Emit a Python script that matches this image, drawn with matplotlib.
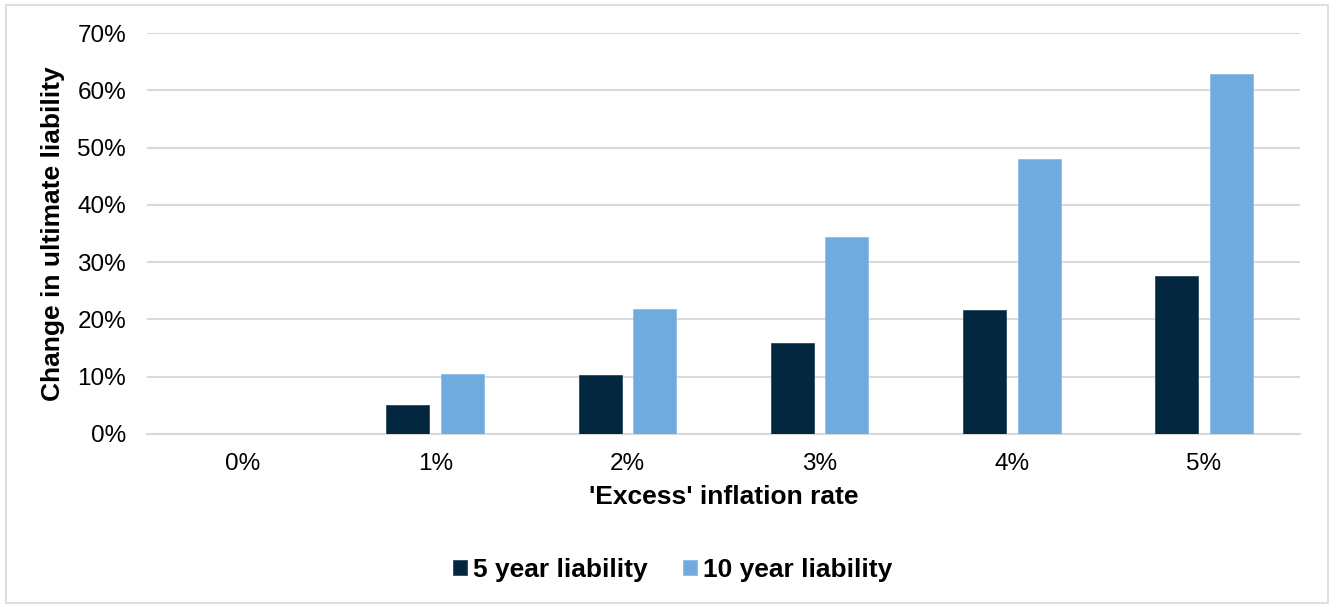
import numpy as np
import matplotlib
matplotlib.use("Agg")
import matplotlib.pyplot as plt
from matplotlib.patches import Rectangle
from matplotlib.ticker import FuncFormatter

plt.rcParams['font.family'] = ['Liberation Sans', 'DejaVu Sans']

# 数据
categories = ["0%", "1%", "2%", "3%", "4%", "5%"]
five_year = [0.0, 5.0, 10.3, 15.9, 21.6, 27.6]
ten_year = [0.0, 10.4, 21.8, 34.4, 48.0, 62.9]
series_names = ["5 year liability", "10 year liability"]

dark = "#02273F"
light = "#6FACDD"

fig = plt.figure(figsize=(13.3, 6.05), dpi=100)
ax = fig.add_axes([147 / 1330, 1 - 434 / 605, (1300 - 147) / 1330, (434 - 33) / 605])

x = np.arange(len(categories))
w = 0.224
off = 0.142
ax.bar(x - off, five_year, w, color=dark, edgecolor="#2b4a60", linewidth=0.6,
       label=series_names[0], zorder=3)
ax.bar(x + off, ten_year, w, color=light, edgecolor="#8cbde6", linewidth=0.6,
       label=series_names[1], zorder=3)

ax.set_xlim(-0.5, len(categories) - 0.5)
ax.set_ylim(0, 70)
ax.set_yticks(np.arange(0, 71, 10))
ax.yaxis.set_major_formatter(FuncFormatter(lambda v, p: "%d%%" % v))
ax.set_xticks(x)
ax.set_xticklabels(categories)
ax.grid(axis="y", color="#D9D9D9", linewidth=1.5, zorder=0)
ax.set_axisbelow(True)
for s in ["top", "right", "left"]:
    ax.spines[s].set_visible(False)
ax.spines["bottom"].set_color("#D9D9D9")
ax.spines["bottom"].set_linewidth(1.5)
ax.tick_params(axis="both", length=0, labelsize=17.5, colors="#000000")
ax.tick_params(axis="x", pad=14)
ax.tick_params(axis="y", pad=15)

ax.set_xlabel("'Excess' inflation rate", fontsize=19, fontweight="bold", labelpad=7)
ax.set_ylabel("Change in ultimate liability", fontsize=19, fontweight="bold", labelpad=9)

fig.legend(loc="center", bbox_to_anchor=(673 / 1330, 1 - 570 / 605), ncol=2, frameon=False,
           prop={"weight": "bold", "size": 19}, handlelength=0.5,
           handleheight=0.5, handletextpad=0.25, columnspacing=1.35)

# 外框
fig.patches.append(Rectangle((6 / 1330, 2 / 605), 1322 / 1330, 598 / 605,
                             transform=fig.transFigure, fill=False,
                             edgecolor="#D9D9D9", linewidth=1.2))

fig.savefig("out.png", dpi=100)
